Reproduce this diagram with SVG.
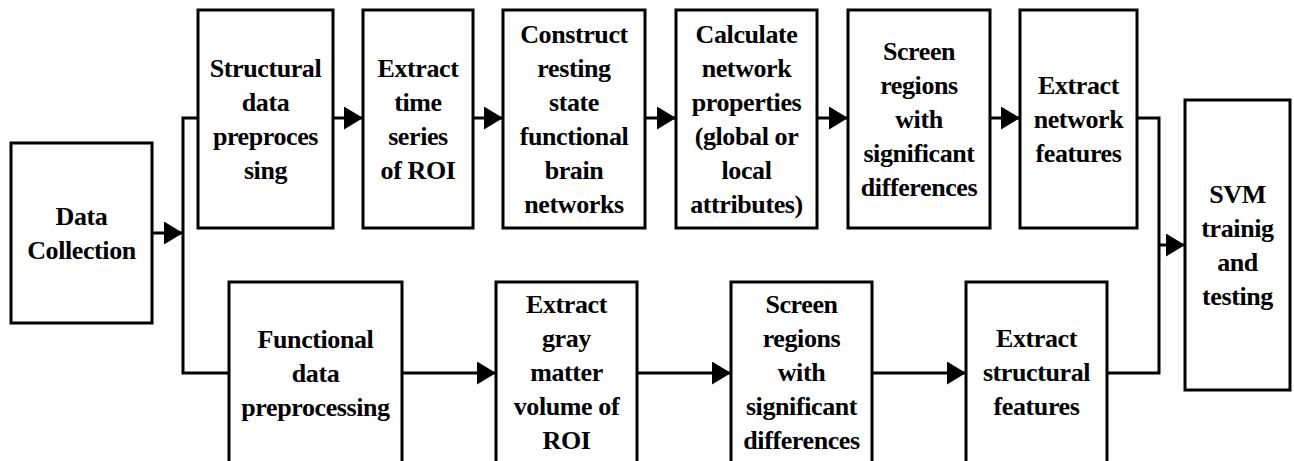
<svg xmlns="http://www.w3.org/2000/svg" width="1294" height="461" viewBox="0 0 1294 461">
<style>
.box{fill:#fff;stroke:#000;stroke-width:3}
.t{font-family:'Liberation Serif','Times New Roman',serif;font-weight:bold;font-size:26px;letter-spacing:-0.4px;text-anchor:middle;fill:#000}
.c{fill:none;stroke:#000;stroke-width:3}
</style>
<defs>
<marker id="ah" markerUnits="userSpaceOnUse" markerWidth="20" markerHeight="24" refX="19" refY="11.5" orient="auto">
<path d="M0,0 L19,11.5 L0,23 z" fill="#000"/>
</marker>
</defs>
<rect width="1294" height="461" fill="#fff"/>
<g id="connectors">
<path class="c" d="M152,233 H183" marker-end="url(#ah)"/>
<path class="c" d="M198,118 H183 V373 H229"/>
<path class="c" d="M333,118 H363" marker-end="url(#ah)"/>
<path class="c" d="M473,118 H503" marker-end="url(#ah)"/>
<path class="c" d="M645,118 H676" marker-end="url(#ah)"/>
<path class="c" d="M817,118 H848" marker-end="url(#ah)"/>
<path class="c" d="M990,118 H1020" marker-end="url(#ah)"/>
<path class="c" d="M402,373 H496" marker-end="url(#ah)"/>
<path class="c" d="M637,373 H731" marker-end="url(#ah)"/>
<path class="c" d="M872,373 H966" marker-end="url(#ah)"/>
<path class="c" d="M1137,118 H1159 V373 H1107"/>
<path class="c" d="M1159,245 H1185" marker-end="url(#ah)"/>
</g>
<g id="data-collection">
<rect class="box" x="11" y="143" width="141" height="180"/>
<text class="t" x="81.5" y="225">Data</text>
<text class="t" x="81.5" y="259">Collection</text>
</g>
<g id="structural-preprocessing">
<rect class="box" x="198" y="10" width="135" height="218"/>
<text class="t" x="265.5" y="77">Structural</text>
<text class="t" x="265.5" y="111">data</text>
<text class="t" x="265.5" y="145">preproces</text>
<text class="t" x="265.5" y="179">sing</text>
</g>
<g id="extract-time-series">
<rect class="box" x="363" y="10" width="110" height="218"/>
<text class="t" x="418" y="77">Extract</text>
<text class="t" x="418" y="111">time</text>
<text class="t" x="418" y="145">series</text>
<text class="t" x="418" y="179">of ROI</text>
</g>
<g id="construct-networks">
<rect class="box" x="503" y="10" width="142" height="218"/>
<text class="t" x="574" y="43">Construct</text>
<text class="t" x="574" y="77">resting</text>
<text class="t" x="574" y="111">state</text>
<text class="t" x="574" y="145">functional</text>
<text class="t" x="574" y="179">brain</text>
<text class="t" x="574" y="213">networks</text>
</g>
<g id="calculate-properties">
<rect class="box" x="676" y="10" width="141" height="218"/>
<text class="t" x="746.5" y="43">Calculate</text>
<text class="t" x="746.5" y="77">network</text>
<text class="t" x="746.5" y="111">properties</text>
<text class="t" x="746.5" y="145">(global or</text>
<text class="t" x="746.5" y="179">local</text>
<text class="t" x="746.5" y="213">attributes)</text>
</g>
<g id="screen-regions-top">
<rect class="box" x="848" y="10" width="142" height="218"/>
<text class="t" x="919" y="60">Screen</text>
<text class="t" x="919" y="94">regions</text>
<text class="t" x="919" y="128">with</text>
<text class="t" x="919" y="162">significant</text>
<text class="t" x="919" y="196">differences</text>
</g>
<g id="extract-network-features">
<rect class="box" x="1020" y="10" width="117" height="218"/>
<text class="t" x="1078.5" y="94">Extract</text>
<text class="t" x="1078.5" y="128">network</text>
<text class="t" x="1078.5" y="162">features</text>
</g>
<g id="svm">
<rect class="box" x="1185" y="100" width="105" height="290"/>
<text class="t" x="1237.5" y="203">SVM</text>
<text class="t" x="1237.5" y="237">trainig</text>
<text class="t" x="1237.5" y="271">and</text>
<text class="t" x="1237.5" y="305">testing</text>
</g>
<g id="functional-preprocessing">
<rect class="box" x="229" y="282" width="173" height="184"/>
<text class="t" x="315.5" y="348">Functional</text>
<text class="t" x="315.5" y="382">data</text>
<text class="t" x="315.5" y="416">preprocessing</text>
</g>
<g id="extract-gray-matter">
<rect class="box" x="496" y="282" width="141" height="184"/>
<text class="t" x="566.5" y="313">Extract</text>
<text class="t" x="566.5" y="347">gray</text>
<text class="t" x="566.5" y="381">matter</text>
<text class="t" x="566.5" y="415">volume of</text>
<text class="t" x="566.5" y="449">ROI</text>
</g>
<g id="screen-regions-bottom">
<rect class="box" x="731" y="282" width="141" height="184"/>
<text class="t" x="801.5" y="313">Screen</text>
<text class="t" x="801.5" y="347">regions</text>
<text class="t" x="801.5" y="381">with</text>
<text class="t" x="801.5" y="415">significant</text>
<text class="t" x="801.5" y="449">differences</text>
</g>
<g id="extract-structural-features">
<rect class="box" x="966" y="282" width="141" height="184"/>
<text class="t" x="1036.5" y="347">Extract</text>
<text class="t" x="1036.5" y="381">structural</text>
<text class="t" x="1036.5" y="415">features</text>
</g>
</svg>
